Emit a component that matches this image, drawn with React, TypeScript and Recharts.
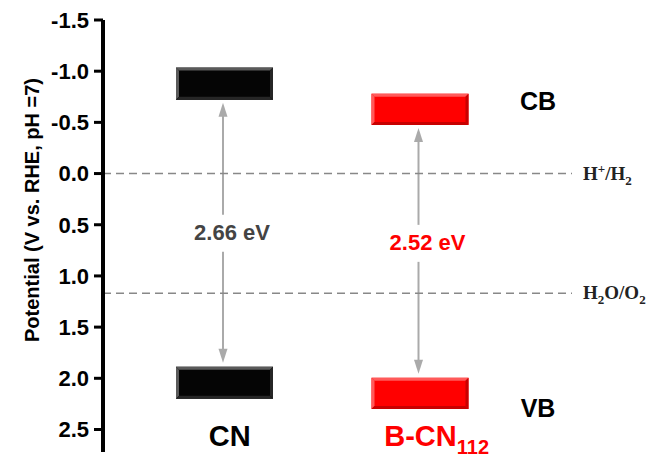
import React from 'react';
import { ComposedChart, Bar, XAxis, YAxis, ReferenceLine, Cell, Label } from 'recharts';

// ---- data ----
const categories = ['CN', 'B-CN'];
const categorySubscripts = ['', '112'];
const cbTop = [-1.035, -0.78];
const cbBottom = [-0.72, -0.475];
const vbTop = [1.887, 1.995];
const vbBottom = [2.2, 2.3];
const bandGapLabels = ['2.66 eV', '2.52 eV'];
const barColors = ['#050505', '#ff0000'];
const bevelLight = ['#5a5a5a', '#ff5a5a'];
const bevelDark = ['#262626', '#c80000'];
const labelColors = ['#000000', '#ff0000'];
const gapTextColors = ['#444444', '#ff0000'];
const yTicks = [-1.5, -1.0, -0.5, 0.0, 0.5, 1.0, 1.5, 2.0, 2.5];
const yDomain = [-1.5, 2.72];
const refPotentials = [0, 1.17];
const refLabelMain = [['H', '+', '/H', '2'], ['H', '2', 'O/O', '2']];
const refLabelShift = [[0, 1, 0, -1], [0, -1, 0, -1]];
const bandNames = ['CB', 'VB'];

const data = categories.map((name, i) => ({
  name,
  sub: categorySubscripts[i],
  cb: [cbTop[i], cbBottom[i]],
  vb: [vbTop[i], vbBottom[i]],
  gap: [cbBottom[i], vbTop[i]],
  gapLabel: bandGapLabels[i],
}));

const SANS = 'Arial, "Liberation Sans", sans-serif';
const SERIF = '"Times New Roman", "Liberation Serif", serif';

const BevelBar = (props: any) => {
  const { x, y, width, height, index } = props;
  const top = Math.min(y, y + height);
  const h = Math.abs(height);
  const b = 3;
  return (
    <g>
      <rect x={x} y={top} width={width} height={h} fill={barColors[index]} />
      <polygon points={`${x},${top} ${x + width},${top} ${x + width - b},${top + b} ${x + b},${top + b}`} fill={bevelLight[index]} />
      <polygon points={`${x},${top} ${x + b},${top + b} ${x + b},${top + h - b} ${x},${top + h}`} fill={bevelLight[index]} />
      <polygon points={`${x},${top + h} ${x + b},${top + h - b} ${x + width - b},${top + h - b} ${x + width},${top + h}`} fill={bevelDark[index]} />
      <polygon points={`${x + width},${top} ${x + width},${top + h} ${x + width - b},${top + h - b} ${x + width - b},${top + b}`} fill={bevelDark[index]} />
    </g>
  );
};

const ArrowShape = (props: any) => {
  const { x, y, width, height, index, payload } = props;
  const top = Math.min(y, y + height) + 3;
  const bottom = Math.max(y, y + height) - 4;
  const cx = x + width / 2 - 1.5;
  const mid = (top + bottom) / 2 - (index === 1 ? 8 : 0);
  const head = 14;
  const hw = 4.5;
  const col = '#aaaaaa';
  return (
    <g>
      <line x1={cx} y1={top + head - 2} x2={cx} y2={mid - 18} stroke={col} strokeWidth={2} />
      <line x1={cx} y1={mid + 19} x2={cx} y2={bottom - head + 2} stroke={col} strokeWidth={2} />
      <polygon points={`${cx},${top} ${cx - hw},${top + head} ${cx + hw},${top + head}`} fill={col} />
      <polygon points={`${cx},${bottom} ${cx - hw},${bottom - head} ${cx + hw},${bottom - head}`} fill={col} />
      <text x={cx + 9} y={mid} textAnchor="middle" dominantBaseline="central" fontFamily={SANS} fontWeight="bold" fontSize={22} fill={gapTextColors[index]}>
        {payload.gapLabel}
      </text>
    </g>
  );
};

const CategoryTick = (props: any) => {
  const { x, index } = props;
  const name = categories[index];
  const sub = categorySubscripts[index];
  const baseline = 446;
  if (!sub) {
    return (
      <text x={x + 5} y={baseline} textAnchor="middle" fontFamily={SANS} fontWeight="bold" fontSize={29} fill={labelColors[index]}>
        {name}
      </text>
    );
  }
  return (
    <text x={x - 36} y={baseline} textAnchor="start" fontFamily={SANS} fontWeight="bold" fontSize={29} fill={labelColors[index]}>
      {name}
      <tspan fontSize={20} dy={8}>{sub}</tspan>
    </text>
  );
};

const RefLabel = (idx: number) => (props: any) => {
  const vb = props.viewBox || {};
  const x = (vb.x || 0) + (vb.width || 0) + 11;
  const y = (vb.y || 0) + 6;
  const parts = refLabelMain[idx];
  const shifts = refLabelShift[idx];
  let prev = 0;
  return (
    <text x={x} y={y} fontFamily={SERIF} fontWeight="bold" fontSize={19} fill="#222">
      {parts.map((p, k) => {
        const s = shifts[k];
        const target = s === 1 ? -7 : s === -1 ? 5 : 0;
        const dyVal = target - prev;
        prev = target;
        return (
          <tspan key={k} dy={dyVal} fontSize={s === 0 ? 19 : 13}>
            {p}
          </tspan>
        );
      })}
    </text>
  );
};

const YTitle = () => (
  <text
    x={32}
    y={210}
    transform="rotate(-90, 32, 210)"
    textAnchor="middle"
    dominantBaseline="central"
    fontFamily={SANS}
    fontWeight="bold"
    fontSize={20}
    fill="#000"
  >
    Potential (V vs. RHE, pH =7)
  </text>
);

export default function App() {
  return (
    <div style={{ position: 'absolute', left: 0, top: 0, width: 656, height: 459, background: '#fff' }}>
      <ComposedChart
        width={656}
        height={459}
        data={data}
        margin={{ top: 20, right: 84, bottom: 6, left: 0 }}
        barGap={-97}
        barCategoryGap={0}
      >
        <XAxis
          dataKey="name"
          height={1}
          axisLine={false}
          tickLine={false}
          tickSize={0}
          tickMargin={0}
          padding={{ left: 24, right: 54 }}
          tick={<CategoryTick />}
          interval={0}
        />
        <YAxis
          type="number"
          reversed
          domain={yDomain}
          ticks={yTicks}
          allowDataOverflow
          width={103}
          tickSize={9}
          tickMargin={5}
          axisLine={{ stroke: '#000', strokeWidth: 4 }}
          tickLine={{ stroke: '#000', strokeWidth: 3 }}
          tick={{ fontFamily: SANS, fontWeight: 'bold', fontSize: 22, fill: '#000' }}
          tickFormatter={(v: number) => v.toFixed(1)}
        >
          <Label content={<YTitle />} />
        </YAxis>
        {refPotentials.map((p, i) => (
          <ReferenceLine
            key={i}
            y={p}
            stroke="#888"
            strokeWidth={1.5}
            strokeDasharray="8 5"
            label={RefLabel(i)}
          />
        ))}
        <Bar dataKey="gap" barSize={97} isAnimationActive={false} shape={<ArrowShape />} />
        <Bar dataKey="cb" barSize={97} isAnimationActive={false} shape={<BevelBar />}>
          {data.map((d, i) => (
            <Cell key={i} fill={barColors[i]} />
          ))}
        </Bar>
        <Bar dataKey="vb" barSize={97} isAnimationActive={false} shape={<BevelBar />}>
          {data.map((d, i) => (
            <Cell key={i} fill={barColors[i]} />
          ))}
        </Bar>
      </ComposedChart>
      <svg width={656} height={459} style={{ position: 'absolute', left: 0, top: 0, pointerEvents: 'none' }}>
        <text x={538} y={110} textAnchor="middle" fontFamily={SANS} fontWeight="bold" fontSize={25} fill="#000">
          {bandNames[0]}
        </text>
        <text x={538} y={417} textAnchor="middle" fontFamily={SANS} fontWeight="bold" fontSize={25} fill="#000">
          {bandNames[1]}
        </text>
      </svg>
    </div>
  );
}
